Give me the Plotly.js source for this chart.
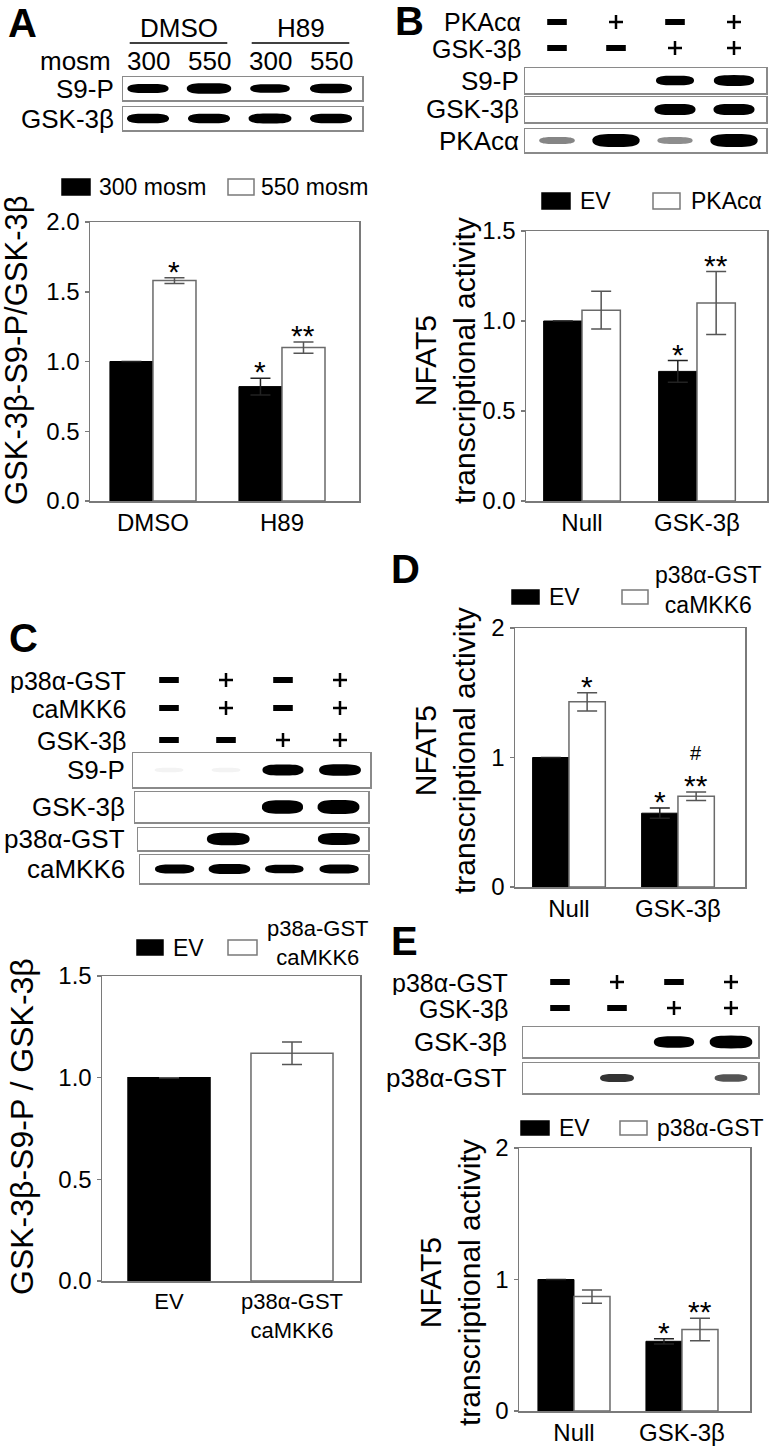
<!DOCTYPE html>
<html>
<head>
<meta charset="utf-8">
<script src="https://cdn.plot.ly/plotly-3.0.1.min.js"></script>
<style>body{margin:0;background:#fff}</style>
</head>
<body>
<div id="fig" style="width:776px;height:1448px"></div>
<script>
// ---- panel A ----
var aGroups = ['DMSO', 'H89'];
var aSeries = ['300 mosm', '550 mosm'];
var a300 = [1.0, 0.82];
var a300Err = [null, 0.06];
var a550 = [1.58, 1.10];
var a550Err = [0.02, 0.04];
var a300Sig = ['', '*'];
var a550Sig = ['*', '**'];
var aLaneLabels = ['300', '550', '300', '550'];
var aS9P = [0.75, 0.95, 0.65, 0.8];
var aGsk = [0.8, 0.8, 0.85, 0.8];

// ---- panel B ----
var bGroups = ['Null', 'GSK-3β'];
var bSeries = ['EV', 'PKAcα'];
var bEV = [1.0, 0.72];
var bEVErr = [null, 0.06];
var bPka = [1.06, 1.10];
var bPkaErr = [0.105, 0.175];
var bEVSig = ['', '*'];
var bPkaSig = ['', '**'];
var bSignPka = ['-', '+', '-', '+'];
var bSignGsk = ['-', '-', '+', '+'];
var bS9P = [0, 0, 0.7, 0.85];
var bGsk = [0, 0, 0.9, 0.9];
var bPkaBlot = [0.3, 1.0, 0.28, 1.0];

// ---- panel C ----
var cGroups = ['EV', 'p38α-GST<br>caMKK6'];
var cSeries = ['EV', 'p38a-GST<br>caMKK6'];
var cValues = [1.0, 1.12];
var cErr = [null, 0.055];
var cSignP38 = ['-', '+', '-', '+'];
var cSignMkk = ['-', '+', '-', '+'];
var cSignGsk = ['-', '-', '+', '+'];
var cS9P = [0.03, 0.03, 0.85, 0.9];
var cGsk = [0, 0, 0.9, 0.95];
var cP38 = [0, 0.9, 0, 0.85];
var cMkk = [0.7, 0.85, 0.65, 0.7];

// ---- panel D ----
var dGroups = ['Null', 'GSK-3β'];
var dSeries = ['EV', 'p38α-GST<br>caMKK6'];
var dEV = [1.0, 0.57];
var dEVErr = [null, 0.04];
var dP38 = [1.43, 0.70];
var dP38Err = [0.07, 0.033];
var dEVSig = ['', '*'];
var dP38Sig = ['*', '**'];
var dP38Hash = ['', '#'];

// ---- panel E ----
var eGroups = ['Null', 'GSK-3β'];
var eSeries = ['EV', 'p38α-GST'];
var eEV = [1.0, 0.53];
var eEVErr = [null, 0.02];
var eP38 = [0.87, 0.62];
var eP38Err = [0.05, 0.085];
var eEVSig = ['', '*'];
var eP38Sig = ['', '**'];
var eSignP38 = ['-', '+', '-', '+'];
var eSignGsk = ['-', '-', '+', '+'];
var eGsk = [0, 0, 0.8, 0.95];
var eP38Blot = [0, 0.5, 0, 0.42];

var W = 776, H = 1448;
var FONT = 'Liberation Sans, Arial, sans-serif';
var GAP = 0.333;
function px(x) { return x / W; }
function py(y) { return 1 - y / H; }

var data = [];
var layout = {
  width: W, height: H,
  margin: {l: 0, r: 0, t: 0, b: 0},
  paper_bgcolor: '#fff', plot_bgcolor: '#fff',
  showlegend: false,
  barmode: 'group', bargap: GAP, bargroupgap: 0,
  font: {family: FONT, color: '#000', size: 24},
  shapes: [], annotations: []
};

var nAx = 0;
function newAxes(xpx, ypx, xopt, yopt) {
  nAx++;
  var s = nAx > 1 ? String(nAx) : '';
  layout['xaxis' + s] = Object.assign({domain: [px(xpx[0]), px(xpx[1])], anchor: 'y' + s, fixedrange: true}, xopt);
  layout['yaxis' + s] = Object.assign({domain: [py(ypx[1]), py(ypx[0])], anchor: 'x' + s, fixedrange: true}, yopt);
  return {x: 'x' + s, y: 'y' + s};
}

var frame = {showline: true, mirror: true, linecolor: '#7a7a7a', linewidth: 1.5,
  showgrid: false, zeroline: false};

function text(t, x, y, size, opt) {
  layout.annotations.push(Object.assign({text: t, x: px(x), y: py(y), xref: 'paper', yref: 'paper',
    showarrow: false, font: {size: size}, xanchor: 'center', yanchor: 'middle'}, opt || {}));
}

function sigMarks(ax, xs, tops, marks, size, shift) {
  marks.forEach(function (t, i) {
    if (!t) return;
    layout.annotations.push({xref: ax.x, yref: ax.y, x: xs[i], y: tops[i], text: t, showarrow: false,
      yanchor: 'bottom', yshift: shift, font: {size: size}});
  });
}

// bar chart; series = [{y, err, sig, fill, line}]
function barChart(o) {
  var ax = newAxes(o.xpx, o.ypx,
    Object.assign({}, frame, {range: o.xrange, tickvals: [0, 1], ticktext: o.groups, ticks: '',
      tickfont: {size: o.xfont || 24}}),
    Object.assign({}, frame, {range: o.yrange, dtick: o.dtick, tickformat: o.fmt, ticks: 'outside',
      ticklen: 4, tickwidth: 1.5, tickcolor: '#7a7a7a', tickfont: {size: 24}}));
  var w = (1 - GAP) / o.series.length;
  o.series.forEach(function (s, j) {
    data.push({
      type: 'bar', x: [0, 1], y: s.y, xaxis: ax.x, yaxis: ax.y,
      marker: {color: s.fill, line: {color: s.line, width: s.fill === '#000' ? 1 : 1.5}},
      error_y: {type: 'data', array: s.err, visible: true, color: s.ecolor || '#555', thickness: 1.5, width: 10},
      hoverinfo: 'skip'
    });
    var off = o.series.length === 2 ? (j - 0.5) * w : 0;
    var xs = s.y.map(function (_, i) { return i + off; });
    var tops = s.y.map(function (v, i) { return v + (s.err[i] || 0); });
    sigMarks(ax, xs, tops, s.sig, 30, -12);
    if (s.sig2) sigMarks(ax, xs, tops, s.sig2, 20, 26);
  });
  return ax;
}

function legendBox(x0, y0, x1, y1, fill) {
  layout.shapes.push({type: 'rect', xref: 'paper', yref: 'paper', x0: px(x0), x1: px(x1), y0: py(y1), y1: py(y0),
    fillcolor: fill, line: {color: fill === '#000' ? '#000' : '#7a7a7a', width: 1.5}});
}

function bandPath(cx, hw, hh) {
  var d = '';
  for (var t = 0; t < 48; t++) {
    var a = t / 48 * 2 * Math.PI, c = Math.cos(a), s = Math.sin(a);
    var x = cx + hw * Math.sign(c) * Math.pow(Math.abs(c), 0.55);
    var y = 0.5 + hh * Math.sign(s) * Math.pow(Math.abs(s), 0.85);
    d += (t ? 'L' : 'M') + x.toFixed(4) + ',' + y.toFixed(4);
  }
  return d + 'Z';
}

function laneRange(x0, x1, c1, step) { return [1 + (x0 - c1) / step, 1 + (x1 - c1) / step]; }

// western blot strip: intens = band strength per lane
function blot(xpx, ypx, lanes, intens, label, labelRight, bw, bh) {
  var ax = newAxes(xpx, ypx,
    {range: lanes, showline: true, mirror: true, linecolor: '#8a8a8a', linewidth: 1.5, showticklabels: false,
      ticks: '', showgrid: false, zeroline: false},
    {range: [0, 1], showline: true, mirror: true, linecolor: '#8a8a8a', linewidth: 1.5, showticklabels: false,
      ticks: '', showgrid: false, zeroline: false});
  intens.forEach(function (v, i) {
    if (v <= 0) return;
    var g = Math.round(255 * (1 - Math.min(1, v * 1.6)));
    layout.shapes.push({type: 'path', xref: ax.x, yref: ax.y, layer: 'above',
      path: bandPath(i + 1, bw * (0.65 + 0.35 * v), bh * (0.35 + 0.65 * v)),
      fillcolor: 'rgb(' + g + ',' + g + ',' + g + ')', line: {width: 0}});
  });
  text(label, labelRight, (ypx[0] + ypx[1]) / 2, 26, {xanchor: 'right'});
}

// +/- rows above blots
function signHeader(xpx, ypx, lanes, rows, labelRight) {
  var ax = newAxes(xpx, ypx, {range: lanes, visible: false}, {range: [ypx[1], ypx[0]], visible: false});
  rows.forEach(function (r) {
    var signs = r.signs;
    var xs = signs.map(function (_, i) { return i + 1; });
    ['+', '-'].forEach(function (kind) {
      var xx = xs.filter(function (_, i) { return signs[i] === kind; });
      data.push({type: 'scatter', mode: 'markers', x: xx, y: xx.map(function () { return r.y; }),
        xaxis: ax.x, yaxis: ax.y, hoverinfo: 'skip',
        marker: kind === '+' ?
          {symbol: 'cross-thin', size: 10, line: {color: '#000', width: 2.5}} :
          {symbol: 'line-ew', size: 14, line: {color: '#000', width: 6}}});
    });
    text(r.label, labelRight, r.y, 25, {xanchor: 'right', height: 25, borderpad: 0});
  });
  return ax;
}

function letter(t, x, yTop) {
  text('<b>' + t + '</b>', x, yTop, 40, {yanchor: 'top'});
}

// ================= A =================
var laneA = laneRange(123, 362, 148, 61);
var hA = newAxes([123, 362], [5, 74], {range: laneA, visible: false}, {range: [74, 5], visible: false});
[[aGroups[0], 1, 2], [aGroups[1], 3, 4]].forEach(function (g) {
  layout.annotations.push({xref: hA.x, yref: hA.y, x: (g[1] + g[2]) / 2, y: 28, text: g[0], showarrow: false,
    font: {size: 26}});
  layout.shapes.push({type: 'line', xref: hA.x, yref: hA.y, x0: g[1] - 0.3, x1: g[2] + 0.3, y0: 43, y1: 43,
    line: {color: '#000', width: 1.5}});
});
aLaneLabels.forEach(function (t, i) {
  layout.annotations.push({xref: hA.x, yref: hA.y, x: i + 1, y: 61, text: t, showarrow: false, font: {size: 26}});
});
text('mosm', 113, 61, 26, {xanchor: 'right'});
blot([123, 362], [77, 100], laneA, aS9P, 'S9-P', 116, 0.37, 0.24);
blot([123, 362], [107, 130], laneA, aGsk, 'GSK-3β', 116, 0.37, 0.24);

barChart({xpx: [90, 359], ypx: [222, 501], xrange: [-0.488, 1.597], yrange: [0, 2], dtick: 0.5, fmt: '.1f',
  groups: aGroups, series: [
    {y: a300, err: a300Err, sig: a300Sig, fill: '#000', line: '#000', ecolor: '#222'},
    {y: a550, err: a550Err, sig: a550Sig, fill: '#fff', line: '#6a6a6a'}]});
legendBox(62, 179, 90, 195, '#000');
text(aSeries[0], 97, 187, 23, {xanchor: 'left'});
legendBox(228, 179, 254, 195, '#fff');
text(aSeries[1], 259, 187, 23, {xanchor: 'left'});
text('GSK-3β-S9-P/GSK-3β', 17, 350, 31, {textangle: -90});
letter('A', 22, -1);

// ================= B =================
var laneB = laneRange(525, 766, 557, 59);
signHeader([525, 766], [5, 62], laneB, [
  {label: 'PKAcα', y: 22, signs: bSignPka},
  {label: 'GSK-3β', y: 48, signs: bSignGsk}], 522);
blot([525, 766], [68, 93], laneB, bS9P, 'S9-P', 521, 0.36, 0.24);
blot([525, 766], [97, 122], laneB, bGsk, 'GSK-3β', 521, 0.36, 0.24);
blot([525, 766], [129, 152], laneB, bPkaBlot, 'PKAcα', 521, 0.4, 0.28);

barChart({xpx: [526, 767], ypx: [231, 501], xrange: [-0.487, 1.609], yrange: [0, 1.5], dtick: 0.5, fmt: '.1f',
  groups: bGroups, series: [
    {y: bEV, err: bEVErr, sig: bEVSig, fill: '#000', line: '#000', ecolor: '#222'},
    {y: bPka, err: bPkaErr, sig: bPkaSig, fill: '#fff', line: '#6a6a6a'}]});
legendBox(542, 193, 570, 209, '#000');
text(bSeries[0], 578, 201, 23, {xanchor: 'left'});
legendBox(653, 193, 680, 209, '#fff');
text(bSeries[1], 689, 201, 23, {xanchor: 'left'});
text('NFAT5<br>transcriptional activity', 445, 360, 30, {textangle: -90});
letter('B', 409, -3);

// ================= C =================
var laneC = laneRange(133, 370, 169, 57);
signHeader([133, 370], [665, 752], laneC, [
  {label: 'p38α-GST', y: 680, signs: cSignP38},
  {label: 'caMKK6', y: 708, signs: cSignMkk},
  {label: 'GSK-3β', y: 740, signs: cSignGsk}], 127);
blot([133, 370], [753, 787], laneC, cS9P, 'S9-P', 127, 0.38, 0.18);
blot([135, 368], [792, 822], laneC, cGsk, 'GSK-3β', 127, 0.38, 0.24);
blot([138, 368], [828, 850], laneC, cP38, 'p38α-GST', 127, 0.4, 0.3);
blot([140, 368], [855, 883], laneC, cMkk, 'caMKK6', 127, 0.4, 0.2);

(function () {
  var ax = newAxes([102, 360], [976, 1281],
    Object.assign({}, frame, {range: [-0.545, 1.553], tickvals: [0, 1], ticktext: cGroups, ticks: '',
      tickfont: {size: 22}}),
    Object.assign({}, frame, {range: [0, 1.5], dtick: 0.5, tickformat: '.1f', ticks: 'outside', ticklen: 4,
      tickwidth: 1.5, tickcolor: '#7a7a7a', tickfont: {size: 24}}));
  data.push({type: 'bar', x: [0, 1], y: cValues, xaxis: ax.x, yaxis: ax.y, hoverinfo: 'skip',
    marker: {color: ['#000', '#fff'], line: {color: ['#000', '#6a6a6a'], width: 1.5}},
    error_y: {type: 'data', array: cErr, visible: true, color: '#555', thickness: 1.5, width: 10}});
})();
legendBox(137, 940, 163, 955, '#000');
text(cSeries[0], 171, 948, 23, {xanchor: 'left'});
legendBox(228, 940, 257, 955, '#fff');
text(cSeries[1], 318, 943, 22);
text('GSK-3β-S9-P / GSK-3β', 22, 1127, 32, {textangle: -90});
letter('C', 23, 614);

// ================= D =================
barChart({xpx: [515, 745], ypx: [628, 887], xrange: [-0.495, 1.615], yrange: [0, 2], dtick: 1, fmt: 'd',
  groups: dGroups, series: [
    {y: dEV, err: dEVErr, sig: dEVSig, fill: '#000', line: '#000', ecolor: '#222'},
    {y: dP38, err: dP38Err, sig: dP38Sig, sig2: dP38Hash, fill: '#fff', line: '#6a6a6a'}]});
legendBox(512, 590, 539, 604, '#000');
text(dSeries[0], 547, 597, 23, {xanchor: 'left'});
legendBox(622, 590, 648, 604, '#fff');
text(dSeries[1], 708, 590, 23);
text('NFAT5<br>transcriptional activity', 445, 750, 30, {textangle: -90});
letter('D', 405, 545);

// ================= E =================
var laneE = laneRange(523, 758, 560, 57);
signHeader([523, 758], [968, 1022], laneE, [
  {label: 'p38α-GST', y: 982, signs: eSignP38},
  {label: 'GSK-3β', y: 1008, signs: eSignGsk}], 509);
blot([523, 758], [1027, 1057], laneE, eGsk, 'GSK-3β', 509, 0.38, 0.22);
blot([523, 758], [1063, 1093], laneE, eP38Blot, 'p38α-GST', 509, 0.36, 0.2);

barChart({xpx: [519, 750], ypx: [1148, 1411], xrange: [-0.509, 1.63], yrange: [0, 2], dtick: 1, fmt: 'd',
  groups: eGroups, series: [
    {y: eEV, err: eEVErr, sig: eEVSig, fill: '#000', line: '#000', ecolor: '#222'},
    {y: eP38, err: eP38Err, sig: eP38Sig, fill: '#fff', line: '#6a6a6a'}]});
legendBox(521, 1121, 549, 1135, '#000');
text(eSeries[0], 557, 1128, 23, {xanchor: 'left'});
legendBox(620, 1121, 647, 1135, '#fff');
text(eSeries[1], 655, 1128, 23, {xanchor: 'left'});
text('NFAT5<br>transcriptional activity', 450, 1283, 30, {textangle: -90});
letter('E', 404, 917);

Plotly.newPlot('fig', data, layout, {staticPlot: true, displayModeBar: false});
</script>
</body>
</html>
